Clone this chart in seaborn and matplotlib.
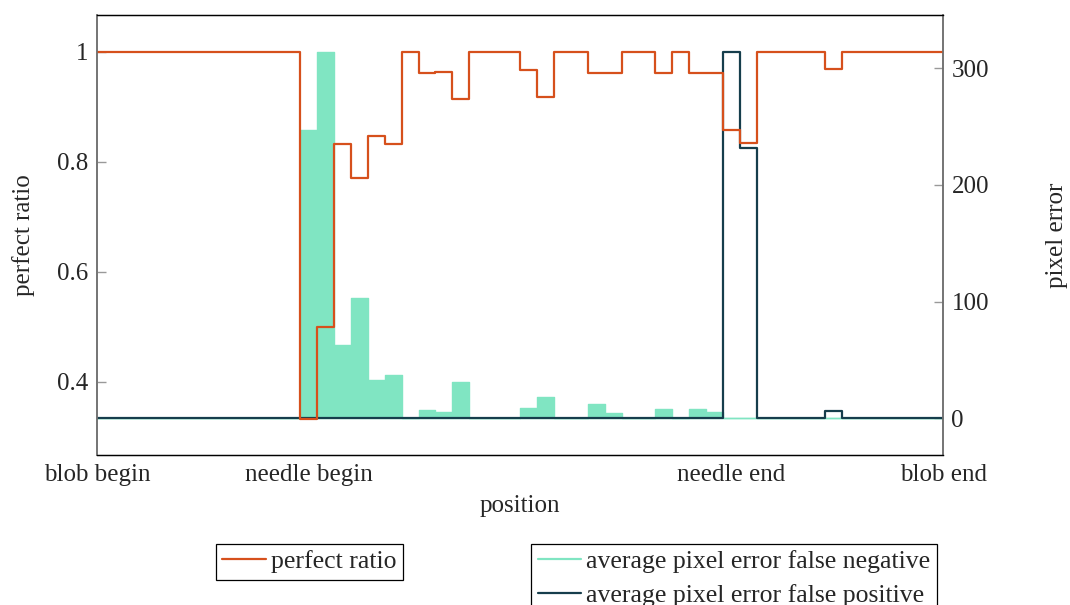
import numpy as np
import pandas as pd
import seaborn as sns
import matplotlib.pyplot as plt
from matplotlib.lines import Line2D

# positions along the blob (50 equal bins)
n_bins = 50
tick_pos = [0, 12.5, 37.5, 50]
tick_labels = ['blob begin', 'needle begin', 'needle end', 'blob end']

# perfect ratio per bin
perfect_ratio = [1.0, 1.0, 1.0, 1.0, 1.0, 1.0, 1.0, 1.0, 1.0, 1.0,
                 1.0, 1.0, 0.333, 0.5, 0.833, 0.77, 0.846, 0.833, 1.0, 0.961,
                 0.963, 0.914, 1.0, 1.0, 1.0, 0.966, 0.917, 1.0, 1.0, 0.962,
                 0.962, 1.0, 1.0, 0.962, 1.0, 0.961, 0.962, 0.858, 0.834, 1.0,
                 1.0, 1.0, 1.0, 0.969, 1.0, 1.0, 1.0, 1.0, 1.0, 1.0]

# average pixel error false negative per bin
err_false_neg = [0, 0, 0, 0, 0, 0, 0, 0, 0, 0,
                 0, 0, 247, 314, 63, 103, 33, 37, 0, 7,
                 5.4, 31, 0, 0, 0, 9, 18, 0, 0, 12,
                 5, 0, 0, 8, 0, 8.3, 5.7, 0, 0, 0,
                 0, 0, 0, 0, 0, 0, 0, 0, 0, 0]

# average pixel error false positive per bin
err_false_pos = [0, 0, 0, 0, 0, 0, 0, 0, 0, 0,
                 0, 0, 0, 0, 0, 0, 0, 0, 0, 0,
                 0, 0, 0, 0, 0, 0, 0, 0, 0, 0,
                 0, 0, 0, 0, 0, 0, 0, 314, 232, 0,
                 0, 0, 0, 6, 0, 0, 0, 0, 0, 0]

RED = '#D6501C'
DARK = '#163E4C'
GREEN = '#80E5C2'

sns.set_style('white')
plt.rcParams['font.family'] = ['Liberation Serif', 'DejaVu Serif']
plt.rcParams['font.size'] = 18

df = pd.DataFrame({
    'pos': np.arange(n_bins) + 0.5,
    'ratio': perfect_ratio,
    'fn': err_false_neg,
    'fp': err_false_pos,
})

fig = plt.figure(figsize=(10.7, 6.05), dpi=100)
ax = fig.add_axes([0.0907, 0.2479, 0.7907, 0.7273])
ax2 = ax.twinx()

# pixel errors on the right axis
sns.histplot(data=df, x='pos', weights='fn', bins=n_bins, binrange=(0, n_bins),
             element='step', fill=True, color=GREEN, edgecolor=GREEN,
             alpha=1, linewidth=1, ax=ax2)
sns.histplot(data=df, x='pos', weights='fp', bins=n_bins, binrange=(0, n_bins),
             element='step', fill=False, color=DARK, linewidth=1.6, ax=ax2)

# perfect ratio on the left axis, drawn on top
sns.histplot(data=df, x='pos', weights='ratio', bins=n_bins, binrange=(0, n_bins),
             element='step', fill=False, color=RED, linewidth=1.6, ax=ax)

ax.set_zorder(2)
ax2.set_zorder(1)
ax.patch.set_visible(False)

ax.set_xlim(0, n_bins)
ax.set_ylim(1 / 3 - 0.0667, 1.0667)
ax2.set_ylim(-31.43, 345.7)

ax.set_xticks(tick_pos)
ax.set_xticklabels(tick_labels)
ax.set_yticks([0.4, 0.6, 0.8, 1.0])
ax.set_yticklabels(['0.4', '0.6', '0.8', '1'])
ax2.set_yticks([0, 100, 200, 300])

ax.tick_params(axis='x', length=0, pad=6.5)
ax.tick_params(axis='y', direction='in', length=6.5, width=1, color='#999999', pad=6, right=False)
ax2.tick_params(axis='y', direction='in', length=6.5, width=1, color='#999999', pad=6)

ax.set_xlabel('position')
ax.set_ylabel('perfect ratio')
ax2.set_ylabel('pixel error')
ax.xaxis.set_label_coords(0.5, -0.09)
ax.yaxis.set_label_coords(-0.073, 0.5)
ax2.yaxis.set_label_coords(1.122, 0.5)

for a in (ax, ax2):
    for side in ('top', 'bottom'):
        a.spines[side].set_color('black')
        a.spines[side].set_linewidth(0.9)
    for side in ('left', 'right'):
        a.spines[side].set_color('#707070')
        a.spines[side].set_linewidth(1.1)

# two separate legends below the plot
leg_kw = dict(frameon=True, fancybox=False, edgecolor='black', framealpha=1,
              borderpad=0.25, handlelength=1.7, handletextpad=0.2,
              labelspacing=0.4, borderaxespad=0, fontsize=18.5)
h1 = [Line2D([], [], color=RED, lw=1.6)]
leg1 = fig.legend(h1, ['perfect ratio'], loc='upper center',
                  bbox_to_anchor=(0.289, 0.101), **leg_kw)
leg1.get_frame().set_linewidth(0.9)
h2 = [Line2D([], [], color=GREEN, lw=1.6), Line2D([], [], color=DARK, lw=1.6)]
leg2 = fig.legend(h2, ['average pixel error false negative', 'average pixel error false positive'],
                  loc='upper center', bbox_to_anchor=(0.686, 0.101), **leg_kw)
leg2.get_frame().set_linewidth(0.9)

fig.savefig('out.png', dpi=100)
